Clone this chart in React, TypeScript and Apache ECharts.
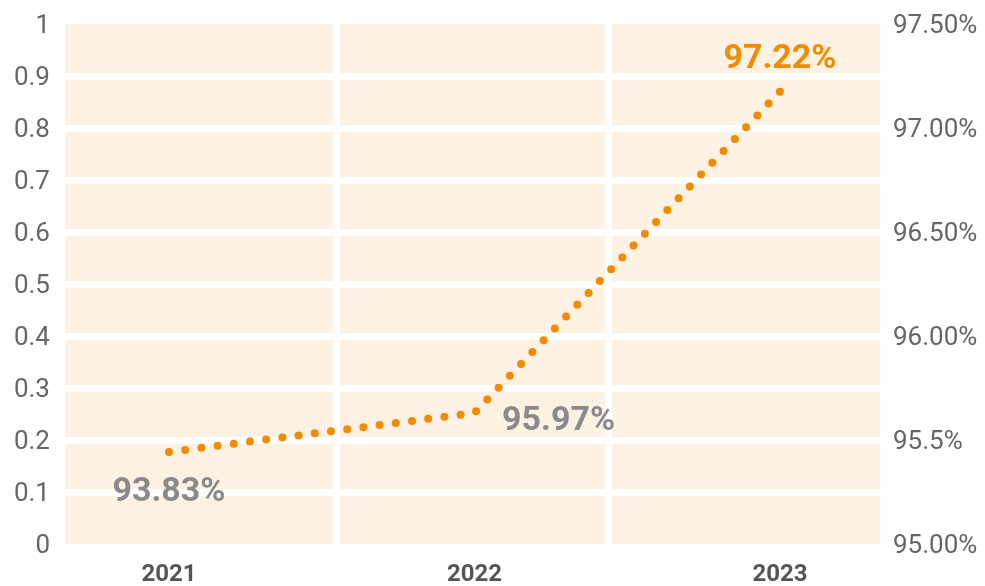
import React, { useEffect, useRef } from "react";
import * as echarts from "echarts";

const years = ["2021", "2022", "2023"];
const plotted = [0.177, 0.252, 0.87];
const rateLabels = ["93.83%", "95.97%", "97.22%"];
const leftTicks = ["0", "0.1", "0.2", "0.3", "0.4", "0.5", "0.6", "0.7", "0.8", "0.9", "1"];
const rightTicks = ["95.00%", "95.5%", "96.00%", "96.50%", "97.00%", "97.50%"];

const ORANGE = "#F18B00";
const GRAY = "#8A8A8A";
const PEACH = "#FDF1E4";
const T = "rgba(0,0,0,0)";

export default function App() {
  const ref = useRef<HTMLDivElement>(null);
  useEffect(() => {
    if (!ref.current) return;
    const chart = echarts.init(ref.current, null, { renderer: "svg" });
    const font = "Roboto, 'Noto Sans', sans-serif";
    const lbl = (pos: string, dist: number, color: string, i: number, offset?: number[]) => ({
      show: true,
      position: pos,
      distance: dist,
      offset: offset || [0, 0],
      formatter: rateLabels[i],
      color,
      fontSize: 34,
      fontWeight: "bold",
      fontFamily: font,
    });
    chart.setOption({
      animation: false,
      textStyle: { fontFamily: font },
      grid: [
        { left: 65, right: 105, top: 24, bottom: 42, show: true, backgroundColor: PEACH, borderWidth: 0 },
        { left: 169, right: 205, top: 24, bottom: 42, show: false },
      ],
      xAxis: [
        {
          type: "category",
          gridIndex: 0,
          data: years,
          boundaryGap: true,
          axisLine: { show: false },
          axisTick: { show: false },
          axisLabel: { show: false },
          splitLine: { show: true, lineStyle: { color: [T, "#ffffff", "#ffffff", T], width: 7 } },
        },
        {
          type: "category",
          gridIndex: 1,
          data: years,
          boundaryGap: false,
          axisLine: { show: false },
          axisTick: { show: false },
          splitLine: { show: false },
          axisLabel: { color: "#555555", fontSize: 24, fontWeight: "bold", margin: 17, fontFamily: font },
        },
      ],
      yAxis: [
        {
          type: "value",
          gridIndex: 0,
          min: 0,
          max: 1,
          interval: 0.1,
          axisLine: { show: false },
          axisTick: { show: false },
          axisLabel: {
            color: "#666666",
            fontSize: 26,
            margin: 15,
            fontFamily: font,
            formatter: (v: number) => leftTicks[Math.round(v * 10)] ?? "",
          },
          splitLine: {
            show: true,
            lineStyle: { color: [T, "#fff", "#fff", "#fff", "#fff", "#fff", "#fff", "#fff", "#fff", "#fff", T], width: 7 },
          },
        },
        {
          type: "value",
          gridIndex: 0,
          position: "right",
          min: 0,
          max: 5,
          interval: 1,
          axisLine: { show: false },
          axisTick: { show: false },
          splitLine: { show: false },
          axisLabel: {
            color: "#666666",
            fontSize: 26,
            margin: 13,
            fontFamily: font,
            formatter: (v: number) => rightTicks[Math.round(v)] ?? "",
          },
        },
        {
          type: "value",
          gridIndex: 1,
          min: 0,
          max: 1,
          show: false,
        },
      ],
      series: [
        {
          type: "line",
          xAxisIndex: 1,
          yAxisIndex: 2,
          symbol: "circle",
          symbolSize: 1,
          showSymbol: true,
          itemStyle: { color: T },
          smooth: false,
          lineStyle: { color: ORANGE, width: 8, type: [0, 16.33], cap: "round" },
          data: [
            { value: plotted[0], label: lbl("bottom", 20, GRAY, 0) },
            { value: plotted[1], label: lbl("right", 27, GRAY, 1, [0, 5]) },
            { value: plotted[2], label: lbl("top", 18, ORANGE, 2) },
          ],
        },
      ],
    });
    return () => chart.dispose();
  }, []);
  return <div ref={ref} style={{ position: "fixed", left: 0, top: 0, width: 985, height: 586 }} />;
}
